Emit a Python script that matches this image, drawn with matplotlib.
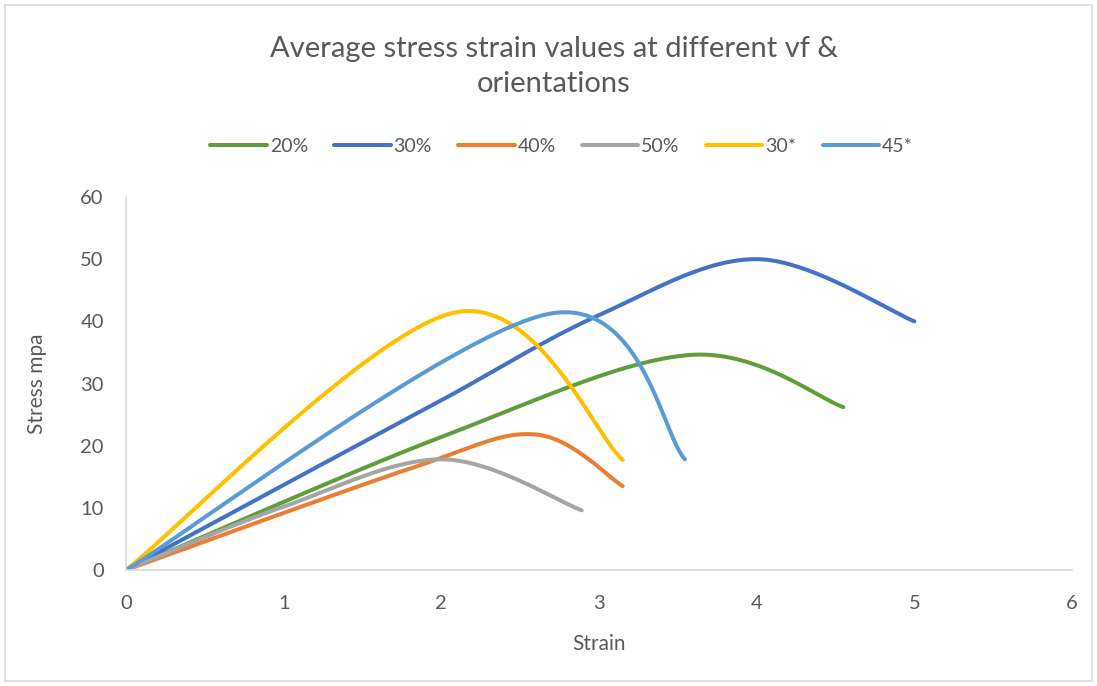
import matplotlib.pyplot as plt
import numpy as np
from matplotlib.patches import Rectangle

# series data (strain, stress)
labels = ['20%', '30%', '40%', '50%', '30*', '45*']
strain_20 = [0, 2, 3.58, 4.55]
stress_20 = [0, 21.4, 34.6, 26.2]
strain_30 = [0, 1, 2, 3, 4.01, 5]
stress_30 = [0, 13.7, 27.3, 41, 50, 40]
strain_40 = [0, 1.8, 2.6, 3.15]
stress_40 = [0, 16.3, 21.8, 13.5]
strain_50 = [0, 1, 2.01, 2.89]
stress_50 = [0, 10.2, 17.8, 9.6]
strain_30d = [0, 2.08, 3.15]
stress_30d = [0, 41.4, 17.7]
strain_45d = [0, 2.68, 3.545]
stress_45d = [0, 41.2, 17.8]

colors = ['#5F9E3A', '#4472C4', '#ED7D31', '#A5A5A5', '#FFC000', '#5B9BD5']


def smooth(xs, ys, n=40):
    # excel style smoothed line: bezier segments, catmull-rom control points
    p = np.column_stack([xs, ys]).astype(float)
    p_ext = np.vstack([p[0], p, p[-1]])
    out = []
    t = np.linspace(0, 1, n)[:, None]
    for i in range(len(p) - 1):
        p0, p1, p2, p3 = p_ext[i], p_ext[i + 1], p_ext[i + 2], p_ext[i + 3]
        c1 = p1 + (p2 - p0) / 6
        c2 = p2 - (p3 - p1) / 6
        seg = ((1 - t) ** 3) * p1 + 3 * ((1 - t) ** 2) * t * c1 + 3 * (1 - t) * t ** 2 * c2 + t ** 3 * p2
        out.append(seg)
    out = np.vstack(out)
    return out[:, 0], out[:, 1]


fig = plt.figure(figsize=(10.97, 6.86), dpi=100)
ax = fig.add_axes([0.1149, 0.1691, 0.8623, 0.5437])

series = [(strain_20, stress_20), (strain_30, stress_30), (strain_40, stress_40),
          (strain_50, stress_50), (strain_30d, stress_30d), (strain_45d, stress_45d)]
for (xs, ys), lab, c in zip(series, labels, colors):
    sx, sy = smooth(xs, ys)
    ax.plot(sx, sy, color=c, lw=2.9, label=lab, solid_capstyle='round')

ax.set_xlim(0, 6)
ax.set_ylim(0, 60)
ax.set_xticks(range(0, 7))
ax.set_yticks(range(0, 61, 10))
for s in ['top', 'right']:
    ax.spines[s].set_visible(False)
for s in ['left', 'bottom']:
    ax.spines[s].set_color('#D9D9D9')
    ax.spines[s].set_linewidth(1.2)
ax.tick_params(axis='x', length=0, labelsize=14.5, colors='#595959', pad=18)
ax.tick_params(axis='y', length=0, labelsize=14.5, colors='#595959', pad=16)
for t in ax.get_xticklabels() + ax.get_yticklabels():
    t.set_family('Lato')

ax.set_xlabel('Strain', fontsize=15, color='#595959', family='Lato', labelpad=16)
ax.set_ylabel('Stress mpa', fontsize=15, color='#595959', family='Lato', labelpad=24)

fig.text(0.505, 0.903, 'Average stress strain values at different vf &\norientations',
         ha='center', va='center', fontsize=21, color='#595959', family='Lato',
         linespacing=1.4)

fig.legend(loc='center', bbox_to_anchor=(0.512, 0.787), ncol=6, frameon=False,
           handlelength=2.9, handletextpad=0.15, columnspacing=1.35,
           prop={'family': 'Lato', 'size': 14}, labelcolor='#595959')

fig.patches.append(Rectangle((0.005, 0.007), 0.99, 0.986, transform=fig.transFigure,
                             fill=False, edgecolor='#D9D9D9', lw=1.2))

fig.savefig('out.png', dpi=100)
